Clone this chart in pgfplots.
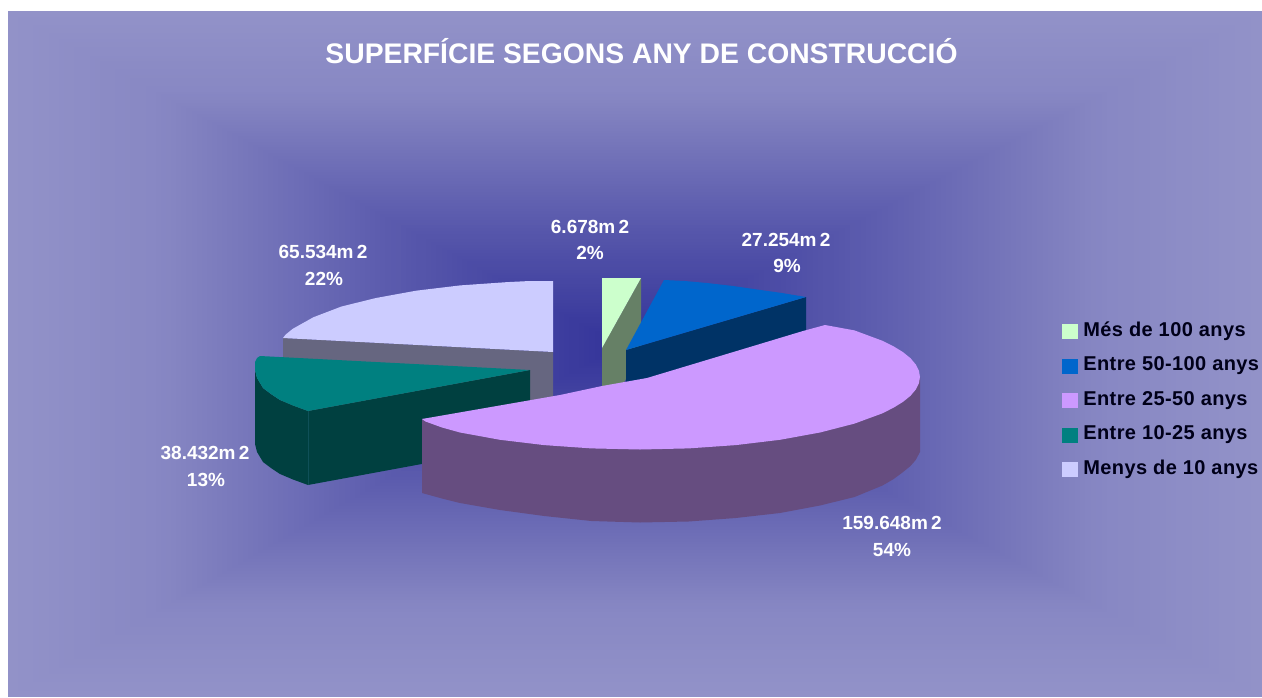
\documentclass[border=0pt]{standalone}
\usepackage{fontspec}
\setmainfont{Liberation Sans}
\newfontfamily\legfont[LetterSpace=2]{Liberation Sans}
\usepackage{pgfplots}
\pgfplotsset{compat=1.18}
\definecolor{bgEdge}{HTML}{9999CC}
\definecolor{bgCenter}{HTML}{333399}
\definecolor{cMes}{HTML}{CCFFCC}
\definecolor{sMes}{HTML}{668066}
\definecolor{cBlue}{HTML}{0066CC}
\definecolor{sBlue}{HTML}{003366}
\definecolor{cPur}{HTML}{CC99FF}
\definecolor{sPur}{HTML}{664D80}
\definecolor{cTeal}{HTML}{008080}
\definecolor{sTeal}{HTML}{004040}
\definecolor{cTealLine}{HTML}{0F5058}
\definecolor{cLil}{HTML}{CCCCFF}
\definecolor{sLil}{HTML}{666680}
\tikzset{lbl/.style={font=\bfseries\fontsize{19}{21}\selectfont, text=white, align=center, inner sep=0pt}}
\begin{document}
\begin{tikzpicture}
\path[use as bounding box] (0,0) rectangle (1262pt,697pt);
% background: centre (620,352 from bottom), reference y=345 from top
\foreach \i in {0,...,120}{
  \pgfmathsetmacro{\t}{1-\i/120}
  \pgfmathsetmacro{\v}{\t<0.3 ? \t : (\t<0.5 ? 0.3+1.15*(\t-0.3) : (\t<0.76 ? 0.53+1.154*(\t-0.5) : 0.83+0.42*(\t-0.76)))}
  \pgfmathsetmacro{\p}{100*\v}
  \pgfmathsetmacro{\xa}{620-612*\t}
  \pgfmathsetmacro{\xb}{620+642*\t}
  \pgfmathsetmacro{\ya}{352-352*\t}
  \pgfmathsetmacro{\yb}{352+334*\t}
  \fill[bgEdge!\p!bgCenter] (\xa pt,\ya pt) rectangle (\xb pt,\yb pt);
}
\begin{axis}[
  at={(0,0)}, anchor=south west,
  scale only axis, width=1262pt, height=697pt,
  xmin=0, xmax=1262, ymin=0, ymax=697, y dir=reverse,
  axis lines=none, clip=false,
  every axis plot/.append style={draw=none, mark=none, line width=0pt},
]
% Menys de 10 anys
\addplot[fill=sLil, forget plot] coordinates {(283,338)(553,352)(553,426)(283,412)};
\addplot[fill=cLil, forget plot] coordinates {(283,338)(285.5,334.7)(292.9,328.7)(313.5,317.2)(341.5,306.5)(376,298)(416,290.7)(460.2,285.4)(507.4,282.1)(530,281)(553,281)(553,352)};
% Entre 10-25 anys
\addplot[fill=sTeal, forget plot] coordinates {(255,362)(255,370)(257,378)(263,388)(271,394)(280,400)(293,405.5)(308,411)(530,370)(530,444)(308,485)(293,479.5)(280,474)(271,468)(263,462)(257,452)(255,444)};
\addplot[fill=cTeal, forget plot] coordinates {(260,356)(530,370)(308,411)(293,405.5)(280,400)(271,394)(263,388)(257,378)(255,370)(255,362)(257,358)};
\addplot[draw=cTealLine, line width=0.5pt, forget plot] coordinates {(308,411)(308,485)};
% Mes de 100 anys
\addplot[fill=sMes, forget plot] coordinates {(602,348)(641,278)(641,352)(602,422)};
\addplot[fill=cMes, forget plot] coordinates {(602,278)(641,278)(602,348)};
% Entre 50-100 anys
\addplot[fill=sBlue, forget plot] coordinates {(626,350)(806,297)(806,371)(626,424)};
\addplot[fill=cBlue, forget plot] coordinates {(664,280)(685,281)(707,283)(733,286)(757,289.5)(782,293)(806,297)(626,350)};
% Entre 25-50 anys
\addplot[fill=sPur, forget plot] coordinates {(422,419)(920,377)(920,452)(915.7,460)(910.5,466)(903.1,472)(893.7,479)(882.5,485.5)(854.5,497)(820,505.5)(780,513)(735.8,518)(688.6,521.5)(640,522.5)(591.4,521)(544.2,516)(500,510)(460,503)(442,498.5)(422,493)};
\addplot[fill=cPur, forget plot] coordinates {(422,419)(560,395)(602,386)(647,378)(740,350)(803,331)(825,325)(854.5,330.4)(882.5,340.8)(893.7,346.4)(903.1,352.2)(910.5,358.2)(915.7,364.4)(918.9,370.7)(920,377)(918.9,383.3)(915.7,389.6)(910.5,395.8)(903.1,401.8)(893.7,407.6)(882.5,413.3)(854.5,423.6)(820,432.5)(780,439.8)(735.8,445.1)(688.6,448.4)(640,449.5)(591.4,448.4)(544.2,445.1)(500,439.8)(460,432.5)(442,427.5)(425.5,421.5)};
% text
\node[font=\bfseries\fontsize{28.3}{30}\selectfont, text=white, inner sep=0pt] at (axis cs:641.5,51.5) {SUPERFÍCIE SEGONS ANY DE CONSTRUCCIÓ};
\node[lbl] at (axis cs:590,227) {6.678m\,2};
\node[lbl] at (axis cs:590,253) {2\%};
\node[lbl] at (axis cs:786,240) {27.254m\,2};
\node[lbl] at (axis cs:787,266) {9\%};
\node[lbl] at (axis cs:323,252) {65.534m\,2};
\node[lbl] at (axis cs:324,279) {22\%};
\node[lbl] at (axis cs:205,453) {38.432m\,2};
\node[lbl] at (axis cs:206,480) {13\%};
\node[lbl] at (axis cs:892,523) {159.648m\,2};
\node[lbl] at (axis cs:892,550) {54\%};
\end{axis}
% legend in its own upright axis
\begin{axis}[
  at={(0,0)}, anchor=south west,
  scale only axis, width=1262pt, height=697pt,
  xmin=0, xmax=1262, ymin=0, ymax=697,
  axis lines=none,
  legend cell align=left,
  legend style={draw=none, fill=none, at={(1062/1262,1-322.5/697)}, anchor=north west,
    font=\legfont\bfseries\fontsize{20}{22}\selectfont, text=black!90!blue,
    inner sep=0pt, outer sep=0pt, row sep=16.5pt, column sep=6pt,
    nodes={inner sep=0pt, text height=14pt, text depth=4pt}},
]
\addlegendimage{legend image code/.code={\fill[cMes] (0,-7pt) rectangle (15pt,7pt);}}
\addlegendentry{Més de 100 anys}
\addlegendimage{legend image code/.code={\fill[cBlue] (0,-7pt) rectangle (15pt,7pt);}}
\addlegendentry{Entre 50-100 anys}
\addlegendimage{legend image code/.code={\fill[cPur] (0,-7pt) rectangle (15pt,7pt);}}
\addlegendentry{Entre 25-50 anys}
\addlegendimage{legend image code/.code={\fill[cTeal] (0,-7pt) rectangle (15pt,7pt);}}
\addlegendentry{Entre 10-25 anys}
\addlegendimage{legend image code/.code={\fill[cLil] (0,-7pt) rectangle (15pt,7pt);}}
\addlegendentry{Menys de 10 anys}
\end{axis}
\end{tikzpicture}
\end{document}
